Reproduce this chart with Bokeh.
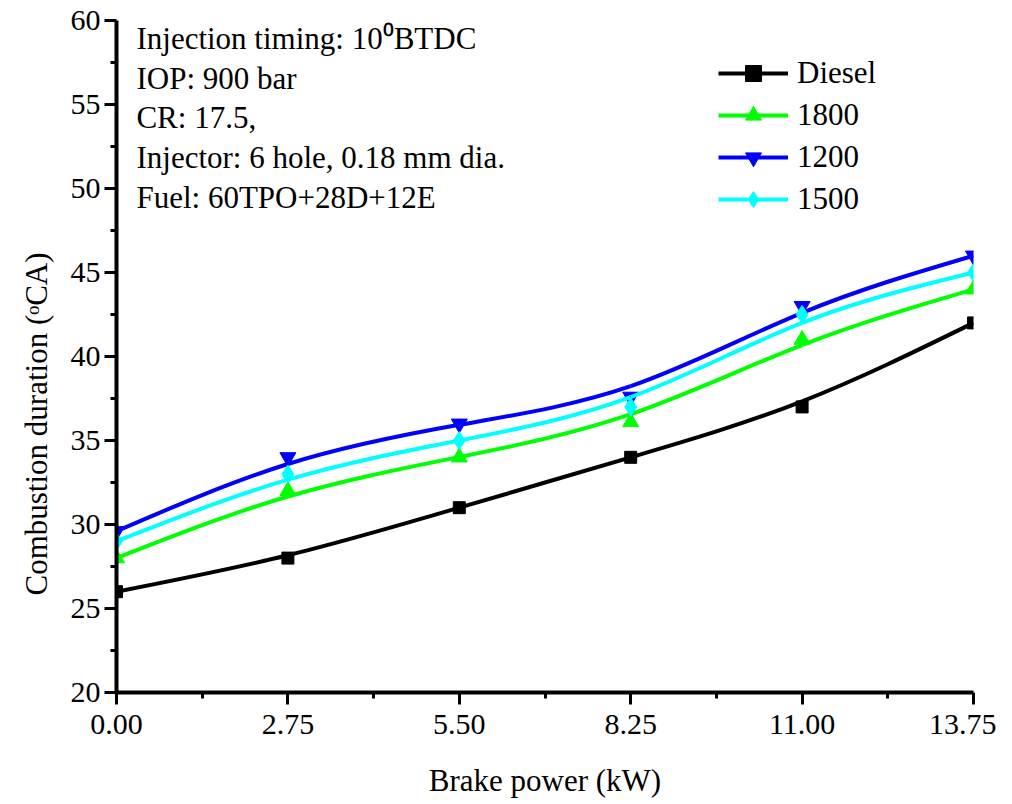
import numpy as np
from bokeh.plotting import figure
from bokeh.models import (Range1d, FixedTicker, PrintfTickFormatter, Label, Legend, LegendItem, Title)
from bokeh.embed import file_html
from bokeh.resources import INLINE

# ---- data ----
power = [0.0, 2.75, 5.50, 8.25, 11.00, 13.75]
diesel = [26.0, 28.0, 31.0, 34.0, 37.0, 42.0]
s1800 = [28.0, 32.0, 34.0, 36.1, 41.0, 44.0]
s1200 = [29.6, 34.0, 36.0, 37.6, 43.0, 46.0]
s1500 = [29.0, 33.0, 35.0, 37.0, 42.5, 45.0]
series_names = ["Diesel", "1800", "1200", "1500"]
x_ticks = [0.0, 2.75, 5.50, 8.25, 11.00, 13.75]
y_ticks = [20, 25, 30, 35, 40, 45, 50, 55, 60]
notes = ["Injection timing: 10\u2070BTDC", "IOP: 900 bar", "CR: 17.5,",
         "Injector: 6 hole, 0.18 mm dia.", "Fuel: 60TPO+28D+12E"]

FONT = "'Liberation Serif', 'Times New Roman', serif"


def bspline_controls(x, y):
    """Cubic B-spline (data as control points, end points interpolated) as Bezier segments."""
    P = np.column_stack([np.asarray(x, float), np.asarray(y, float)])
    Q = np.vstack([2 * P[0] - P[1], P, 2 * P[-1] - P[-2]])
    n = len(P) - 1
    s, c0, c1, e = [], [], [], []
    for i in range(n):
        a, b, c, d = Q[i], Q[i + 1], Q[i + 2], Q[i + 3]
        s.append((a + 4 * b + c) / 6)
        c0.append((2 * b + c) / 3)
        c1.append((b + 2 * c) / 3)
        e.append((b + 4 * c + d) / 6)
    s, c0, c1, e = map(np.array, (s, c0, c1, e))
    return dict(x0=s[:, 0], y0=s[:, 1], cx0=c0[:, 0], cy0=c0[:, 1],
                cx1=c1[:, 0], cy1=c1[:, 1], x1=e[:, 0], y1=e[:, 1])


p = figure(width=996, height=800, output_backend="svg", toolbar_location=None,
           x_range=Range1d(0, 13.75), y_range=Range1d(20, 60),
           min_border_left=116, min_border_right=23, min_border_top=20, min_border_bottom=108)
p.outline_line_color = None
p.grid.visible = False
p.background_fill_color = "white"

for ax in (p.xaxis[0], p.yaxis[0]):
    ax.axis_line_width = 4
    ax.axis_line_color = "black"
    ax.major_tick_line_width = 3
    ax.minor_tick_line_width = 3
    ax.major_tick_out = 12
    ax.major_tick_in = 0
    ax.minor_tick_out = 6
    ax.minor_tick_in = 0
    ax.major_label_text_font = FONT
    ax.major_label_text_font_size = "30px"
    ax.major_label_text_color = "black"
    ax.axis_label_text_font = FONT
    ax.axis_label_text_font_size = "31px"
    ax.axis_label_text_font_style = "normal"
    ax.axis_label_text_color = "black"

p.xaxis[0].ticker = FixedTicker(ticks=x_ticks,
                                minor_ticks=[(a + b) / 2 for a, b in zip(x_ticks[:-1], x_ticks[1:])])
p.xaxis[0].formatter = PrintfTickFormatter(format="%.2f")
p.xaxis[0].major_label_standoff = 10
p.xaxis[0].axis_label = "Brake power (kW)"
p.xaxis[0].axis_label_standoff = 26
p.yaxis[0].ticker = FixedTicker(ticks=y_ticks,
                                minor_ticks=[(a + b) / 2 for a, b in zip(y_ticks[:-1], y_ticks[1:])])
p.yaxis[0].major_label_standoff = 4

ytitle = Title(text="Combustion duration (\u1d52CA)", align="left", offset=97, standoff=28,
               text_font=FONT, text_font_size="31px", text_font_style="normal", text_color="black")
p.add_layout(ytitle, "left")

colors = ["black", "#00ff00", "#0000ff", "#00ffff"]
markers = ["square", "triangle", "inverted_triangle", "diamond"]
sizes = [12, 16, 16, 18]
items = []
for name, ys, c, mk, sz in zip(series_names, [diesel, s1800, s1200, s1500], colors, markers, sizes):
    b = p.bezier(source=bspline_controls(power, ys), x0="x0", y0="y0", x1="x1", y1="y1",
                 cx0="cx0", cy0="cy0", cx1="cx1", cy1="cy1", line_color=c, line_width=4)
    s = p.scatter(power, ys, marker=mk, size=sz, fill_color=c, line_color=c)
    items.append(LegendItem(label=name, renderers=[b, s]))

legend = Legend(items=items, location=(602, 473), orientation="vertical",
                glyph_width=70, glyph_height=40, label_height=40, spacing=2,
                label_standoff=9, padding=0, margin=0,
                border_line_color=None, background_fill_alpha=0,
                label_text_font=FONT, label_text_font_size="31px", label_text_color="black")
p.add_layout(legend, "center")

note_y = [58.93, 56.55, 54.23, 51.85, 49.47]
for t, yy in zip(notes, note_y):
    p.add_layout(Label(x=0.32, y=yy, text=t, text_font=FONT, text_font_size="31px",
                       text_baseline="middle", text_align="left", text_color="black"))

open("out.html", "w").write(file_html(p, INLINE))
